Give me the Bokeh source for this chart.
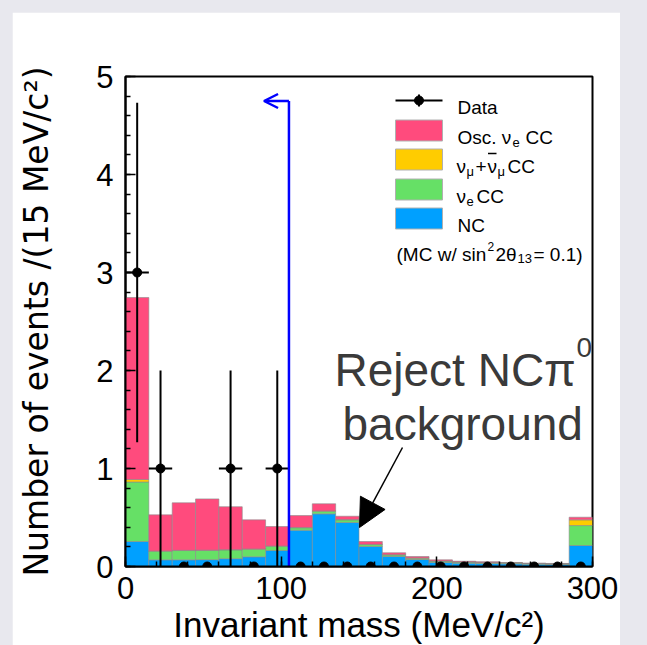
import math
import numpy as np
from bokeh.plotting import figure
from bokeh.models import Label, Arrow, OpenHead, NormalHead, FixedTicker, Range1d
from bokeh.layouts import column
from bokeh.embed import file_html
from bokeh.resources import INLINE

# ---- data: invariant mass of the two photon candidates, 15 MeV/c^2 bins ----
bin_edges = list(range(0, 301, 15))
data_counts = [3, 1, 0, 0, 1, 0, 1, 0, 0, 0, 0, 0, 0, 0, 0, 0, 0, 0, 0, 0]

# MC expectation per bin (sin^2 2theta13 = 0.1), stacked bottom -> top
nc = [0.255, 0.068, 0.068, 0.070, 0.080, 0.099, 0.163, 0.370, 0.537, 0.449,
      0.204, 0.102, 0.071, 0.041, 0.034, 0.030, 0.027, 0.024, 0.020, 0.214]
nue_cc = [0.607, 0.088, 0.095, 0.095, 0.090, 0.078, 0.044, 0.025, 0.027, 0.027,
          0.020, 0.017, 0.014, 0.014, 0.011, 0.011, 0.009, 0.006, 0.007, 0.204]
numu_cc = [0.026, 0.002, 0.002, 0.002, 0.002, 0.002, 0.002, 0.003, 0.003, 0.003,
           0.002, 0.002, 0.002, 0.001, 0.001, 0.001, 0.001, 0.001, 0.001, 0.058]
osc_nue_cc = [1.857, 0.369, 0.485, 0.523, 0.438, 0.297, 0.199, 0.122, 0.073, 0.034,
              0.029, 0.019, 0.015, 0.012, 0.008, 0.006, 0.004, 0.003, 0.003, 0.027]

cut_mass = 105          # NC pi0 rejection cut (MeV/c^2)
x_ticks = [0, 100, 200, 300]
y_ticks = [0, 1, 2, 3, 4, 5]

# ---- colours / fonts ----
C_OSC, C_NUMU, C_NUE, C_NC = "#ff4b7d", "#ffcc00", "#66e066", "#00a0ff"
FONT = "Liberation Sans"
SLIDE_GREY = "#3a3a3a"
PAGE_GREY = "#e8e8ee"

# ---- canvas geometry ----
ML, MR, MT, MB = 113, 28, 64, 79
FW, FH = 467, 490
OX, OY = 12, 12                       # panel offset on the page
FX0, FY0 = OX + ML, OY + MT
XMIN, XMAX, YMIN, YMAX = 0, 300, 0, 5


def dx(px):
    return XMIN + (px - FX0) * (XMAX - XMIN) / FW


def dy(py):
    return YMIN + (FY0 + FH - py) * (YMAX - YMIN) / FH


p = figure(frame_width=FW, frame_height=FH, output_backend="svg", toolbar_location=None,
           x_range=Range1d(XMIN, XMAX), y_range=Range1d(YMIN, YMAX),
           min_border_left=ML, min_border_right=MR, min_border_top=MT, min_border_bottom=MB,
           background_fill_color="white", border_fill_color="white")
p.margin = (OY, 0, 0, OX)
p.grid.visible = False
p.outline_line_color = "black"
p.outline_line_width = 2

# ---- stacked MC histogram ----
lo = np.array(bin_edges[:-1], dtype=float)
hi = np.array(bin_edges[1:], dtype=float)
bottom = np.zeros(len(lo))
for vals, col in [(nc, C_NC), (nue_cc, C_NUE), (numu_cc, C_NUMU), (osc_nue_cc, C_OSC)]:
    top = bottom + np.array(vals)
    p.quad(left=lo, right=hi, bottom=bottom, top=top, fill_color=col,
           line_color="#8a8a8a", line_width=1, line_alpha=0.6)
    bottom = top

# ---- data points with sqrt(N) errors ----
counts = np.array(data_counts, dtype=float)
centers = 0.5 * (lo + hi)
err = np.sqrt(counts)
has = counts > 0
p.segment(x0=centers[has], y0=(counts - err)[has], x1=centers[has], y1=(counts + err)[has],
          line_color="black", line_width=2)
p.segment(x0=lo[has], y0=counts[has], x1=hi[has], y1=counts[has],
          line_color="black", line_width=2)
p.scatter(centers, counts, size=9, color="black")

# ---- cut line with arrow ----
cut_top, cut_arrow_end = 4.75, 89
p.segment(x0=[cut_mass], y0=[0], x1=[cut_mass], y1=[cut_top], line_color="#0000ff", line_width=2.5)
p.add_layout(Arrow(x_start=cut_mass, y_start=cut_top, x_end=cut_arrow_end, y_end=cut_top,
                   line_color="#0000ff", line_width=2.5,
                   end=OpenHead(size=14, line_color="#0000ff", line_width=2.5)))

# ---- axes ----
for ax in (p.xaxis[0], p.yaxis[0]):
    ax.axis_line_width = 2
    ax.major_tick_in = 10
    ax.major_tick_out = 0
    ax.minor_tick_in = 5
    ax.minor_tick_out = 0
    ax.major_tick_line_width = 1.5
    ax.minor_tick_line_width = 1.5
    ax.major_label_text_font = FONT
    ax.major_label_text_font_size = "31px"
    ax.major_label_text_color = "black"
    ax.axis_label_text_font_style = "normal"
    ax.axis_label_text_color = "black"
p.xaxis.ticker = FixedTicker(ticks=x_ticks, minor_ticks=list(range(0, 301, 20)))
p.yaxis.ticker = FixedTicker(ticks=y_ticks, minor_ticks=[i / 5 for i in range(26)])
p.xaxis.major_label_standoff = 10
p.yaxis.major_label_standoff = 12

p.xaxis.axis_label = "Invariant mass (MeV/c²)"
p.xaxis.axis_label_text_font = FONT
p.xaxis.axis_label_text_font_size = "35px"
p.xaxis.axis_label_standoff = 3

p.yaxis.axis_label = "Number of events /(15 MeV/c²)"
p.yaxis.axis_label_text_font = "DejaVu Sans"
p.yaxis.axis_label_text_font_size = "33px"
p.yaxis.axis_label_standoff = 37


def label(t, px, py, size, font=FONT, color="black", align="left", baseline="alphabetic"):
    p.add_layout(Label(x=dx(px), y=dy(py), text=t, text_font=font,
                       text_font_size=f"{size}px", text_color=color, text_align=align,
                       text_baseline=baseline))


# title
label("6 ν", 192, 47, 46, color=SLIDE_GREY)
label("e", 250, 63, 28, color=SLIDE_GREY)
label("events", 283, 47, 46, color=SLIDE_GREY)

# annotation on the pi0 region
label("Reject NCπ", 334, 369, 46, color=SLIDE_GREY)
label("0", 576, 347, 28, color=SLIDE_GREY)
label("background", 342, 423, 46, color=SLIDE_GREY)
p.add_layout(Arrow(x_start=dx(402), y_start=dy(447), x_end=dx(359), y_end=dy(527),
                   line_color="black", line_width=1.5,
                   end=NormalHead(size=28, fill_color="black", line_color="black")))

# ---- legend (drawn by hand for sub/superscripts) ----
SW_L, SW_R = 395, 442
p.segment(x0=[dx(SW_L)], y0=[dy(100)], x1=[dx(SW_R)], y1=[dy(100)], line_color="black", line_width=2)
p.segment(x0=[dx(418.5)], y0=[dy(94)], x1=[dx(418.5)], y1=[dy(106)], line_color="black", line_width=2)
p.scatter([dx(418.5)], [dy(100)], size=9, color="black")
label("Data", 457, 107, 19)

for col, yc in [(C_OSC, 130), (C_NUMU, 159), (C_NUE, 189), (C_NC, 218)]:
    p.quad(left=[dx(SW_L)], right=[dx(SW_R)], bottom=[dy(yc + 10.5)], top=[dy(yc - 10.5)],
           fill_color=col, line_color="#b0b0b0", line_width=1)

label("Osc. ν", 457, 137, 19)
label("e", 512, 142, 13)
label("CC", 525, 137, 19)

label("ν", 456, 166, 19)
label("μ", 466, 171, 13)
label("+", 475, 166, 19)
label("ν", 487, 166, 19)
# bar over the anti-neutrino symbol
p.segment(x0=[dx(487.5)], y0=[dy(153)], x1=[dx(496)], y1=[dy(153)], line_color="black", line_width=1.5)
label("μ", 497, 171, 13)
label("CC", 507, 166, 19)

label("ν", 456, 196, 19)
label("e", 466, 201, 13)
label("CC", 476, 196, 19)

label("NC", 457, 225, 19)

label("(MC w/ sin", 396, 254, 19)
label("2", 487, 246, 12)
label("2θ", 495, 254, 19)
label("13", 517, 258, 13)
label("= 0.1)", 533, 254, 19)

page = column(p, width=647, styles={"background-color": PAGE_GREY})
open("out.html", "w").write(file_html(page, INLINE))
